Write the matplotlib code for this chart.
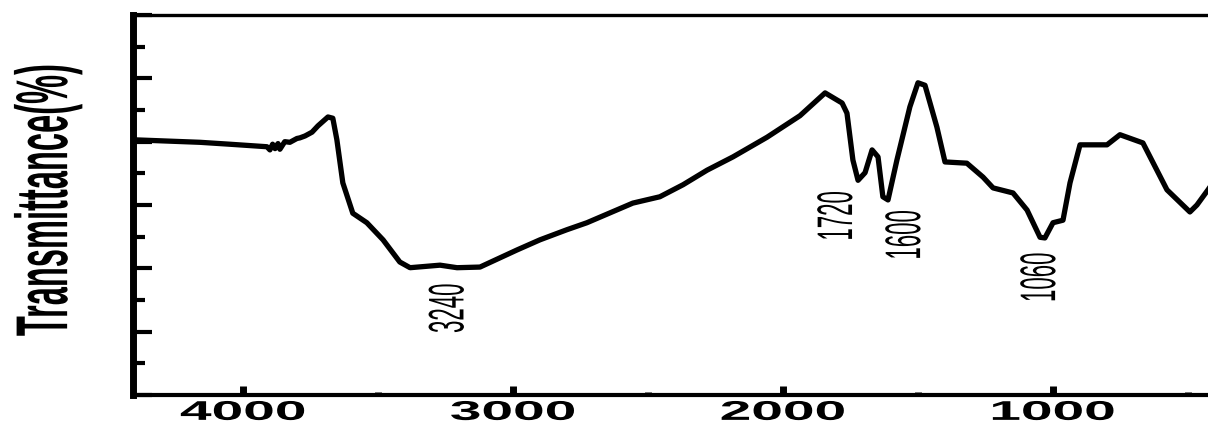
import numpy as np
from matplotlib import pyplot as plt
from matplotlib.patheffects import AbstractPathEffect
from matplotlib.transforms import Affine2D
from matplotlib.ticker import MultipleLocator


# FTIR spectrum
wavenumber = [4407, 4159, 4050, 3911, 3900, 3890, 3881, 3870, 3863, 3845, 3826, 3800,
              3789, 3770, 3744, 3722, 3685, 3667, 3652, 3630, 3593, 3541, 3481,
              3419, 3381, 3270, 3207, 3122, 2985, 2900, 2800, 2726, 2556, 2456,
              2370, 2281, 2185, 2059, 1937, 1844, 1781, 1763, 1741, 1722, 1696,
              1670, 1648, 1630, 1611, 1578, 1530, 1500, 1474, 1430, 1400, 1319,
              1259, 1222, 1148, 1096, 1048, 1030, 1000, 963, 937, 900, 800, 752,
              667, 578, 493, 467, 426, 400]
transmittance = [40.3, 39.9, 39.6, 39.2, 38.7, 39.6, 38.9, 39.7, 38.8, 40.0, 39.9, 40.5,
                 40.6, 40.9, 41.5, 42.5, 43.9, 43.7, 40.3, 33.5, 28.7, 27.2, 24.5,
                 21.0, 20.1, 20.5, 20.1, 20.2, 22.9, 24.5, 26.1, 27.2, 30.3, 31.3,
                 33.2, 35.5, 37.6, 40.7, 44.1, 47.7, 46.1, 44.5, 37.1, 33.9, 35.1,
                 38.7, 37.6, 31.3, 30.8, 37.1, 45.5, 49.3, 48.9, 42.3, 36.8, 36.6,
                 34.4, 32.7, 31.9, 29.2, 24.9, 24.8, 27.2, 27.6, 33.5, 39.5, 39.5,
                 41.1, 39.8, 32.4, 28.9, 30.0, 32.4, 34.0]

peak_labels = ['3240', '1720', '1600', '1060']
label_x = [3239, 1800, 1548, 1048]
label_y = [13.7, 28.3, 25.3, 18.6]


class StretchX(AbstractPathEffect):
    # the source image is stretched sideways, so widen glyphs about their centre
    def __init__(self, sx):
        super().__init__()
        self.sx = sx

    def draw_path(self, renderer, gc, tpath, affine, rgbFace=None):
        bb = tpath.get_extents(affine)
        cx = bb.x0 + bb.width / 2
        cy = bb.y0 + bb.height / 2
        a = affine + Affine2D().translate(-cx, -cy).scale(self.sx, 1).translate(cx, cy)
        renderer.draw_path(gc, tpath, a, rgbFace)


plt.rcParams['font.family'] = ['Liberation Sans', 'DejaVu Sans']

fig = plt.figure(figsize=(12.08, 4.25), dpi=100)
ax = fig.add_axes([133 / 1208, 30 / 425, 1 - 133 / 1208, 380 / 425])

ax.plot(wavenumber, transmittance, color='black', lw=3.8, solid_joinstyle='round')

ax.set_xlim(4407, 426)
ax.set_ylim(0, 60)

ax.xaxis.set_major_locator(MultipleLocator(1000))
ax.xaxis.set_minor_locator(MultipleLocator(500))
ax.yaxis.set_major_locator(MultipleLocator(10))
ax.yaxis.set_minor_locator(MultipleLocator(5))

ax.spines['right'].set_visible(False)
ax.spines['left'].set_linewidth(5)
ax.spines['top'].set_linewidth(2.4)
ax.spines['bottom'].set_linewidth(3)

ax.tick_params(axis='y', which='major', direction='in', length=13.5, width=3,
               labelleft=False)
ax.tick_params(axis='y', which='minor', direction='in', length=8.5, width=3)
ax.tick_params(axis='x', which='major', direction='in', length=6.5, width=5, pad=3.5,
               labelsize=19.5)
ax.tick_params(axis='x', which='minor', direction='in', length=2.5, width=5)

for lab in ax.get_xticklabels():
    lab.set_fontweight('bold')
    lab.set_path_effects([StretchX(2.1)])

yl = ax.set_ylabel('Transmittance(%)', fontsize=23.5, fontweight='bold',
                   ha='center', va='center')
ax.yaxis.set_label_coords(-0.079, 0.513)
yl.set_path_effects([StretchX(2.25)])

for txt, x, y in zip(peak_labels, label_x, label_y):
    t = ax.text(x, y, txt, rotation=90, ha='center', va='center', fontsize=16)
    t.set_path_effects([StretchX(2.25)])

fig.savefig('out.png', dpi=100)
